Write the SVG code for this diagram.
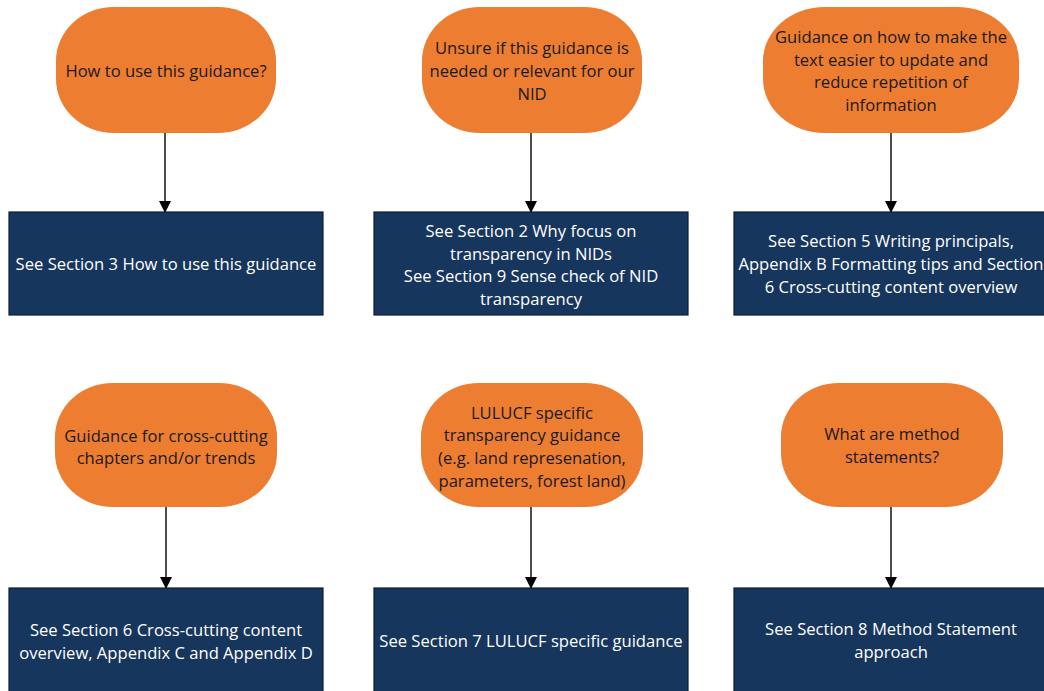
<svg xmlns="http://www.w3.org/2000/svg" width="1044" height="691" viewBox="0 0 1044 691">
<defs>
<style>
.q{fill:#ED7D31;}
.a{fill:#17365D;stroke:#0B1F36;stroke-width:1.2;}
.qt{font-family:"Open Sans","Liberation Sans",sans-serif;font-size:16.6px;fill:#1A1A1A;text-anchor:middle;dominant-baseline:central;}
.at{font-family:"Open Sans","Liberation Sans",sans-serif;font-size:16.6px;fill:#FFFFFF;text-anchor:middle;dominant-baseline:central;}
.c{stroke:#000;stroke-width:1.4;fill:none;marker-end:url(#arr);}
</style>
<marker id="arr" markerWidth="12" markerHeight="12" refX="11" refY="6" orient="auto" markerUnits="userSpaceOnUse">
<path d="M0,0 L12,6 L0,12 Z" fill="#000"/>
</marker>
</defs>
<rect width="1044" height="691" fill="#FFFFFF"/>
<g id="connectors">
<line class="c" x1="165" y1="133" x2="165" y2="212"/>
<line class="c" x1="531" y1="133" x2="531" y2="212"/>
<line class="c" x1="891" y1="133" x2="891" y2="212"/>
<line class="c" x1="166" y1="507" x2="166" y2="588"/>
<line class="c" x1="531" y1="507" x2="531" y2="588"/>
<line class="c" x1="891" y1="507" x2="891" y2="588"/>
</g>
<g id="q1">
<rect class="q" x="56" y="7" width="220" height="126" rx="58" ry="54"/>
<text class="qt" x="166" y="70">How to use this guidance?</text>
</g>
<g id="q2">
<rect class="q" x="422" y="7" width="220" height="126" rx="58" ry="54"/>
<text class="qt" x="532" y="47">Unsure if this guidance is</text>
<text class="qt" x="532" y="70">needed or relevant for our</text>
<text class="qt" x="532" y="93">NID</text>
</g>
<g id="q3">
<rect class="q" x="763" y="7" width="256" height="126" rx="62" ry="54"/>
<text class="qt" x="891" y="36">Guidance on how to make the</text>
<text class="qt" x="891" y="59">text easier to update and</text>
<text class="qt" x="891" y="81">reduce repetition of</text>
<text class="qt" x="891" y="104">information</text>
</g>
<g id="a1">
<rect class="a" x="9" y="212" width="314" height="103"/>
<text class="at" x="166" y="263">See Section 3 How to use this guidance</text>
</g>
<g id="a2">
<rect class="a" x="374" y="212" width="314" height="103"/>
<text class="at" x="531" y="230">See Section 2 Why focus on</text>
<text class="at" x="531" y="253">transparency in NIDs</text>
<text class="at" x="531" y="275">See Section 9 Sense check of NID</text>
<text class="at" x="531" y="298">transparency</text>
</g>
<g id="a3">
<rect class="a" x="734" y="212" width="314" height="103"/>
<text class="at" x="891" y="240">See Section 5 Writing principals,</text>
<text class="at" x="891" y="263">Appendix B Formatting tips and Section</text>
<text class="at" x="891" y="286">6 Cross-cutting content overview</text>
</g>
<g id="q4">
<rect class="q" x="55" y="383" width="222" height="124" rx="58" ry="54"/>
<text class="qt" x="166" y="435">Guidance for cross-cutting</text>
<text class="qt" x="166" y="457">chapters and/or trends</text>
</g>
<g id="q5">
<rect class="q" x="421" y="383" width="222" height="124" rx="58" ry="54"/>
<text class="qt" x="532" y="412">LULUCF specific</text>
<text class="qt" x="532" y="434">transparency guidance</text>
<text class="qt" x="532" y="457">(e.g. land represenation,</text>
<text class="qt" x="532" y="480">parameters, forest land)</text>
</g>
<g id="q6">
<rect class="q" x="781" y="383" width="222" height="124" rx="58" ry="54"/>
<text class="qt" x="892" y="433">What are method</text>
<text class="qt" x="892" y="456">statements?</text>
</g>
<g id="a4">
<rect class="a" x="9" y="588" width="314" height="104"/>
<text class="at" x="166" y="629">See Section 6 Cross-cutting content</text>
<text class="at" x="166" y="652">overview, Appendix C and Appendix D</text>
</g>
<g id="a5">
<rect class="a" x="374" y="588" width="314" height="104"/>
<text class="at" x="531" y="640">See Section 7 LULUCF specific guidance</text>
</g>
<g id="a6">
<rect class="a" x="734" y="588" width="314" height="104"/>
<text class="at" x="891" y="628">See Section 8 Method Statement</text>
<text class="at" x="891" y="651">approach</text>
</g>
</svg>
